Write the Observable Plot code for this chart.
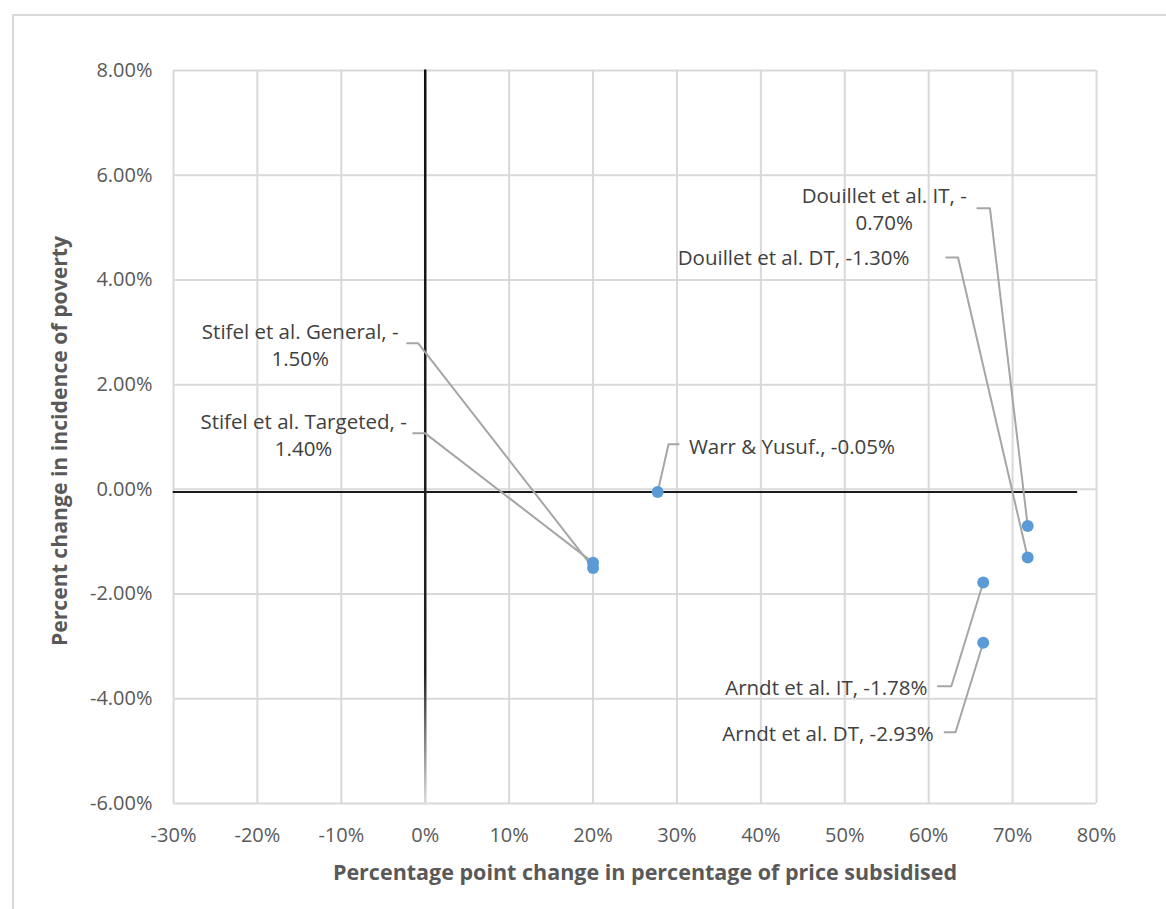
<!DOCTYPE html>
<html>
<head>
<meta charset="utf-8">
<script src="https://cdn.jsdelivr.net/npm/d3@7"></script>
<script src="https://cdn.jsdelivr.net/npm/@observablehq/plot@0.6"></script>
<style>
  body { margin: 0; background: #fff; }
  #wrap { position: relative; width: 1166px; height: 909px; overflow: hidden; }
  #border { position: absolute; left: 12px; top: 14px; width: 1200px; height: 1000px; border: 2px solid #d9d9d9; box-sizing: border-box; }
  #chart { position: absolute; left: 0; top: 0; }
</style>
</head>
<body>
<div id="wrap"><div id="border"></div><div id="chart"></div></div>
<script>
// ---- data ----
const studies = ["Stifel et al. General", "Stifel et al. Targeted", "Warr & Yusuf.", "Douillet et al. IT", "Douillet et al. DT", "Arndt et al. IT", "Arndt et al. DT"];
const subsidyChange = [20, 20, 27.7, 71.8, 71.8, 66.5, 66.5];      // % points
const povertyChange = [-1.50, -1.40, -0.05, -0.70, -1.30, -1.78, -2.93]; // %
const xTicks = [-30, -20, -10, 0, 10, 20, 30, 40, 50, 60, 70, 80];
const yTicks = [-6, -4, -2, 0, 2, 4, 6, 8];
const xTitle = "Percentage point change in percentage of price subsidised";
const yTitle = "Percent change in incidence of poverty";

// label text lines (as in the chart's data labels)
const labelLines = [
  ["Stifel et al. General, -", "1.50%"],
  ["Stifel et al. Targeted, -", "1.40%"],
  ["Warr & Yusuf., -0.05%"],
  ["Douillet et al. IT, -", "0.70%"],
  ["Douillet et al. DT, -1.30%"],
  ["Arndt et al. IT, -1.78%"],
  ["Arndt et al. DT, -2.93%"]
];
// label placement in data units: text centre x, first-line y, line step
const labelX = [-14.9, -14.5, 43.7, 54.7, 43.9, 47.8, 48.0];
const labelY = [3.00, 1.28, 0.80, 5.60, 4.41, -3.80, -4.68];
const lineStep = 0.52;
// leader-line elbow (start x, corner x, y) in data units
const leaderStartX = [-2.15, -1.43, 30.2, 65.8, 62.1, 61.1, 61.9];
const leaderCornerX = [-0.83, 0.0, 29.0, 67.3, 63.5, 62.7, 63.2];
const leaderY = [2.79, 1.07, 0.86, 5.37, 4.43, -3.76, -4.64];

// reference (axis) lines drawn as series
const hLine = [{x: -30, y: -0.05}, {x: 77.6, y: -0.05}];
const vLine = [{x: 0, y: 8}, {x: 0, y: -6}];

// ---- build tables ----
const points = studies.map((s, i) => ({study: s, x: subsidyChange[i], y: povertyChange[i]}));
const texts = [];
labelLines.forEach((lines, i) => lines.forEach((t, j) => texts.push({text: t, x: labelX[i], y: labelY[i] - j * lineStep})));
const leaders = [];
studies.forEach((s, i) => {
  leaders.push({id: i, x: leaderStartX[i], y: leaderY[i]});
  leaders.push({id: i, x: leaderCornerX[i], y: leaderY[i]});
  leaders.push({id: i, x: subsidyChange[i], y: povertyChange[i]});
});

const font = "'Open Sans', Lato, sans-serif";
const chart = Plot.plot({
  width: 1166,
  height: 909,
  marginLeft: 173,
  marginRight: 70,
  marginTop: 70,
  marginBottom: 106,
  style: {fontFamily: font, background: "transparent", overflow: "visible"},
  x: {domain: [-30, 80], ticks: xTicks},
  y: {domain: [-6, 8], ticks: yTicks},
  marks: [
    Plot.gridX(xTicks, {stroke: "#d9d9d9", strokeOpacity: 1, strokeWidth: 2}),
    Plot.gridY(yTicks, {stroke: "#d9d9d9", strokeOpacity: 1, strokeWidth: 2}),
    Plot.axisX(xTicks, {tickSize: 0, tickPadding: 24, tickFormat: d => d + "%", fontSize: 20, fill: "#595959", label: null}),
    Plot.axisY(yTicks, {tickSize: 0, tickPadding: 21, tickFormat: d => d.toFixed(2) + "%", fontSize: 20, fill: "#595959", label: null}),
    Plot.line(hLine, {x: "x", y: "y", stroke: "#1a1a1a", strokeWidth: 2}),
    Plot.line(vLine, {x: "x", y: "y", stroke: "url(#vfade)", strokeWidth: 2.5}),
    Plot.line(leaders, {x: "x", y: "y", z: "id", stroke: "#a6a6a6", strokeWidth: 2, curve: "linear"}),
    Plot.dot(points, {x: "x", y: "y", r: 6, fill: "#5b9bd5", stroke: "none"}),
    Plot.text(texts, {x: "x", y: "y", text: "text", textAnchor: "middle", fontSize: 20.5, fill: "#404040"}),
    Plot.text([xTitle], {frameAnchor: "bottom", dy: 76, dx: 10, fontSize: 21.5, fontWeight: "bold", fill: "#595959"}),
    Plot.text([yTitle], {frameAnchor: "left", textAnchor: "middle", rotate: -90, dx: -113, dy: 4, fontSize: 21.2, fontWeight: "bold", fill: "#595959"})
  ]
});

// gradient for the fading vertical reference line
const ys = chart.scale("y");
const svgNS = "http://www.w3.org/2000/svg";
const defs = document.createElementNS(svgNS, "defs");
const grad = document.createElementNS(svgNS, "linearGradient");
grad.setAttribute("id", "vfade");
grad.setAttribute("gradientUnits", "userSpaceOnUse");
grad.setAttribute("x1", 0); grad.setAttribute("x2", 0);
grad.setAttribute("y1", ys.apply(8)); grad.setAttribute("y2", ys.apply(-6));
[[0, "#111", 1], [0.82, "#222", 1], [1, "#dddddd", 1]].forEach(([o, c, a]) => {
  const st = document.createElementNS(svgNS, "stop");
  st.setAttribute("offset", o); st.setAttribute("stop-color", c); st.setAttribute("stop-opacity", a);
  grad.appendChild(st);
});
defs.appendChild(grad);
chart.insertBefore(defs, chart.firstChild);

document.getElementById("chart").appendChild(chart);
</script>
</body>
</html>
